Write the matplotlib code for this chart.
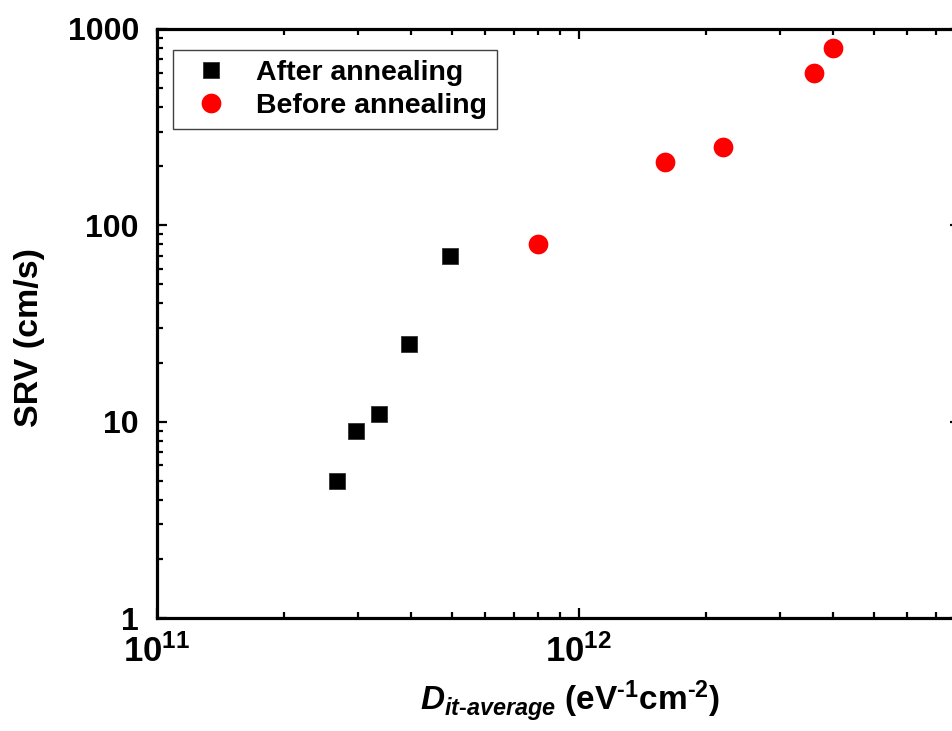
import matplotlib
matplotlib.use('Agg')
import matplotlib.pyplot as plt
from matplotlib.ticker import LogLocator, FuncFormatter, NullFormatter

# data
after_x = [2.67e11, 2.96e11, 3.36e11, 3.96e11, 4.95e11]
after_y = [5, 9, 11, 25, 70]
before_x = [8.0e11, 1.6e12, 2.2e12, 3.6e12, 4.0e12]
before_y = [80, 210, 250, 600, 800]

plt.rcParams['font.family'] = 'Liberation Sans'
plt.rcParams['font.weight'] = 'bold'
plt.rcParams['mathtext.fontset'] = 'custom'
plt.rcParams['mathtext.rm'] = 'Liberation Sans:bold'
plt.rcParams['mathtext.bf'] = 'Liberation Sans:bold'
plt.rcParams['mathtext.it'] = 'Liberation Sans:bold:italic'

fig = plt.figure(figsize=(9.52, 7.31), dpi=100, facecolor='white')
ax = fig.add_axes([157/952, 1-618/731, 803/952, 589/731])

ax.plot(after_x, after_y, 's', color='black', ms=12.2, mec='#333333', mew=0.6,
        label='After annealing', clip_on=False)
ax.plot(before_x, before_y, 'o', color='red', ms=14.2, mec='red', mew=0,
        label='Before annealing', clip_on=False)

ax.set_xscale('log')
ax.set_yscale('log')
ax.set_xlim(1e11, 8e12)
ax.set_ylim(1, 1000)

ax.xaxis.set_major_locator(LogLocator(base=10, numticks=10))
ax.xaxis.set_minor_locator(LogLocator(base=10, subs=range(2, 10), numticks=20))
ax.xaxis.set_minor_formatter(NullFormatter())
ax.yaxis.set_major_locator(LogLocator(base=10, numticks=10))
ax.yaxis.set_minor_locator(LogLocator(base=10, subs=range(2, 10), numticks=20))
ax.yaxis.set_minor_formatter(NullFormatter())
ax.yaxis.set_major_formatter(FuncFormatter(lambda v, p: '%g' % v))

for s in ax.spines.values():
    s.set_linewidth(2.3)
ax.tick_params(which='both', direction='in', top=True, right=True, width=1.6)
ax.tick_params(which='major', length=7.5)
ax.tick_params(axis='y', which='major', pad=13, labelsize=23)
ax.tick_params(axis='x', which='major', pad=12, labelsize=25)
ax.tick_params(which='minor', length=4)

ax.set_ylabel('SRV (cm/s)', fontsize=24.5, fontweight='bold')
ax.yaxis.set_label_coords(-0.14, 0.477)
ax.set_xlabel(r'$D_{it\text{-}average}$ (eV$^{\text{-}1}$cm$^{\text{-}2}$)',
              fontsize=24, fontweight='bold')
ax.xaxis.set_label_coords(0.514, -0.103)

leg = ax.legend(loc='upper left', bbox_to_anchor=(173/952, 1-50/731),
                bbox_transform=fig.transFigure, borderaxespad=0,
                fancybox=False, edgecolor='#404040', framealpha=1,
                prop={'size': 20.5, 'weight': 'bold'}, handletextpad=0.55,
                borderpad=0.35, labelspacing=0.25, numpoints=1)
leg.get_frame().set_linewidth(1.0)

plt.savefig('out.png', dpi=100, facecolor='white')
